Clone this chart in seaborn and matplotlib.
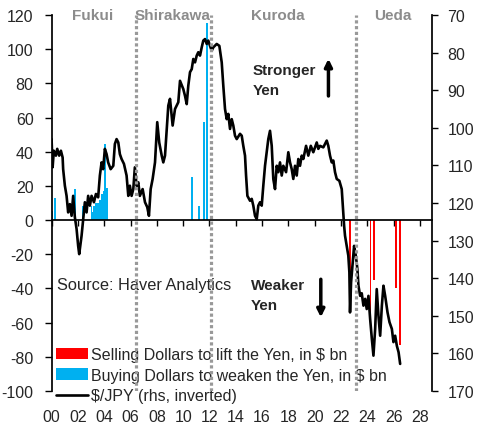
import numpy as np
import pandas as pd
import seaborn as sns
import matplotlib.pyplot as plt
from matplotlib.patches import Patch
from matplotlib.lines import Line2D

sns.set_theme(style='white')
plt.rcParams['font.family'] = ['Liberation Sans', 'DejaVu Sans']
plt.rcParams['axes.unicode_minus'] = False

# $/JPY (year fraction, yen per dollar)
yen_year = [2000.00, 2000.08, 2000.17, 2000.33, 2000.43, 2000.58, 2000.71, 2000.84, 2000.88, 2001.01,
            2001.14, 2001.26, 2001.39, 2001.52, 2001.64, 2001.77, 2001.90, 2002.02, 2002.10, 2002.28,
            2002.40, 2002.53, 2002.66, 2002.78, 2002.91, 2003.04, 2003.22, 2003.37, 2003.54, 2003.67,
            2003.80, 2003.92, 2004.05, 2004.18, 2004.30, 2004.49, 2004.69, 2004.81, 2004.94, 2005.07,
            2005.19, 2005.32, 2005.50, 2005.70, 2005.83, 2005.95, 2006.08, 2006.21, 2006.33, 2006.46,
            2006.59, 2006.71, 2006.92, 2007.10, 2007.27, 2007.40, 2007.53, 2007.68, 2007.86, 2008.03,
            2008.18, 2008.37, 2008.49, 2008.62, 2008.75, 2008.87, 2009.00, 2009.20, 2009.38, 2009.63,
            2009.76, 2010.01, 2010.14, 2010.27, 2010.39, 2010.52, 2010.65, 2010.77, 2010.90, 2011.03,
            2011.15, 2011.28, 2011.41, 2011.53, 2011.66, 2011.79, 2011.91, 2012.04, 2012.17, 2012.29,
            2012.55, 2012.75, 2012.93, 2013.05, 2013.18, 2013.31, 2013.43, 2013.56, 2013.69, 2013.81,
            2013.94, 2014.07, 2014.32, 2014.45, 2014.57, 2014.70, 2014.78, 2014.88, 2015.08, 2015.21,
            2015.33, 2015.46, 2015.59, 2015.71, 2015.84, 2015.97, 2016.09, 2016.22, 2016.35, 2016.47,
            2016.60, 2016.73, 2016.85, 2016.98, 2017.11, 2017.23, 2017.36, 2017.49, 2017.61, 2017.82,
            2017.99, 2018.12, 2018.25, 2018.37, 2018.50, 2018.63, 2018.75, 2018.88, 2019.01, 2019.13,
            2019.34, 2019.51, 2019.70, 2019.89, 2020.15, 2020.27, 2020.40, 2020.65, 2020.91, 2021.03,
            2021.16, 2021.29, 2021.41, 2021.54, 2021.67, 2021.87, 2022.05, 2022.13, 2022.23, 2022.30,
            2022.43, 2022.55, 2022.63, 2022.68, 2022.76, 2022.89, 2022.99, 2023.12, 2023.24, 2023.32,
            2023.45, 2023.57, 2023.70, 2023.83, 2023.95, 2024.08, 2024.21, 2024.34, 2024.46, 2024.59,
            2024.71, 2024.84, 2024.97, 2025.10, 2025.22, 2025.35, 2025.53, 2025.68, 2025.86, 2025.98,
            2026.11, 2026.24, 2026.37, 2026.49]
yen_value = [103.0, 110.5, 106.1, 107.4, 105.6, 107.4, 106.1, 107.9, 111.0, 115.4,
             118.1, 122.5, 120.3, 123.4, 118.1, 123.8, 126.9, 131.4, 133.6, 128.7,
             124.3, 119.8, 122.5, 118.1, 120.7, 118.1, 119.8, 117.6, 118.5, 112.7,
             109.2, 111.0, 105.6, 107.0, 109.2, 111.0, 110.1, 104.3, 103.0, 103.9,
             107.0, 108.3, 109.6, 112.7, 118.1, 115.4, 118.1, 116.3, 110.5, 115.4,
             114.5, 118.1, 116.3, 119.8, 121.1, 123.4, 116.3, 113.6, 109.2, 98.5,
             103.9, 107.4, 109.2, 107.4, 100.3, 94.1, 92.3, 99.4, 95.0, 93.2,
             87.5, 89.7, 91.5, 93.7, 88.8, 85.2, 84.4, 81.7, 82.6, 80.8,
             79.9, 80.8, 78.6, 76.8, 76.4, 77.7, 76.8, 78.2, 79.5, 78.6,
             77.7, 78.2, 82.6, 88.8, 95.0, 97.7, 96.3, 100.3, 97.7, 99.4,
             102.1, 103.0, 101.6, 102.1, 104.8, 107.4, 112.7, 118.1, 119.4, 118.9,
             120.7, 123.4, 124.3, 120.7, 119.8, 120.7, 115.4, 110.1, 106.5, 103.0,
             100.8, 104.8, 113.6, 116.3, 110.1, 111.8, 109.2, 112.7, 110.1, 111.8,
             106.5, 109.2, 111.0, 113.6, 110.1, 112.7, 108.3, 110.1, 107.4, 108.3,
             104.8, 107.4, 104.8, 106.5, 103.9, 105.6, 104.8, 105.2, 103.4, 104.8,
             107.4, 109.2, 108.7, 111.8, 113.6, 114.1, 116.3, 120.7, 126.0, 128.7,
             131.4, 134.0, 138.4, 149.1, 141.1, 135.8, 131.4, 134.0, 137.6, 142.0,
             144.7, 144.0, 147.3, 145.5, 148.2, 144.7, 150.9, 156.2, 160.6, 153.5,
             142.9, 150.0, 155.3, 147.3, 142.0, 144.7, 149.1, 151.7, 153.5, 157.0,
             155.3, 158.0, 159.7, 162.8]

# Intervention: buying dollars (weaken yen), $ bn
buy_year = [2000.05, 2000.25, 2001.75, 2002.36,
            2003.04, 2003.12, 2003.21, 2003.29, 2003.37, 2003.46, 2003.54, 2003.62,
            2003.71, 2003.79, 2003.87, 2003.96, 2004.04, 2004.12, 2004.21,
            2010.64, 2011.20, 2011.56, 2011.80]
buy_value = [5.5, 13, 18, 8.5,
             8.5, 5, 8.5, 4, 10, 10, 6, 10,
             12, 15, 15, 17, 44.5, 19, 19,
             25.5, 8.5, 57.5, 115.5]

# Intervention: selling dollars (lift yen), $ bn
sell_year = [2022.66, 2024.24, 2024.49, 2026.20, 2026.45]
sell_value = [-33, -63, -35, -40, -73]

era_names = ['Fukui', 'Shirakawa', 'Kuroda', 'Ueda']
era_label_x = [2003.1, 2009.2, 2017.2, 2025.9]
era_breaks = [2006.4, 2012.1, 2023.15]

red = '#ff0000'
blue = '#00b0f0'
grey = '#8c8c8c'

yen_df = pd.DataFrame({'year': yen_year, 'yen': yen_value})

fig = plt.figure(figsize=(4.82, 4.27), dpi=100)
ax = fig.add_axes([0.107, 0.082, 0.789, 0.8805])
ax2 = ax.twinx()

ax.bar(buy_year, buy_value, width=0.14, color=blue, linewidth=0, zorder=2)
ax.bar(sell_year, sell_value, width=0.14, color=red, linewidth=0, zorder=2)

sns.lineplot(data=yen_df, x='year', y='yen', ax=ax2, color='black', linewidth=1.9)

ax.set_xlim(2000, 2028.9)
ax.set_ylim(-100, 120)
ax2.set_ylim(170, 70)

# left axis
ax.set_yticks(np.arange(-100, 121, 20))
ax.tick_params(axis='y', which='major', direction='out', length=5, width=1, color='black',
               labelsize=11.5, pad=8, left=True)
# right axis
ax2.set_yticks(np.arange(70, 171, 10))
ax2.tick_params(axis='y', which='major', direction='out', length=4.3, width=1, color='black',
                labelsize=11.5, pad=7, right=True)
ax2.set_ylabel('')
ax2.set_xlabel('')
ax.set_xlabel('')

# x axis line at zero with ticks, labels at the bottom
xt = np.arange(2000, 2029, 2)
ax.spines['bottom'].set_position(('data', 0))
ax.set_xticks(xt)
ax.tick_params(axis='x', direction='out', length=4, width=1, color='black', labelbottom=False, bottom=True)
sec = ax.secondary_xaxis('bottom')
sec.set_xticks(xt)
sec.set_xticklabels([f'{int(y) % 100:02d}' for y in xt])
sec.tick_params(length=0, labelsize=11.5, pad=13)
sec.spines['bottom'].set_visible(False)

for a in (ax, ax2):
    a.spines['top'].set_visible(False)
    a.spines['left'].set_color('black')
    a.spines['right'].set_color('black')
    a.grid(False)
ax2.spines['bottom'].set_visible(False)
ax.spines['bottom'].set_color('black')
ax.spines['right'].set_visible(False)
ax2.spines['left'].set_visible(False)

# era boundaries and names
for xb in era_breaks:
    ax2.axvline(xb, color='#999999', linestyle=(0, (1, 0.8)), linewidth=2.3, zorder=5)
for name, xl in zip(era_names, era_label_x):
    ax.text(xl, 120, name, ha='center', va='center', color=grey, fontsize=11, fontweight='bold')

# annotations
ax.text(2015.28, 81.7, 'Stronger\nYen', ha='left', va='center', fontsize=11,
        fontweight='bold', linespacing=1.55)
ax.annotate('', xy=(2021.04, 96), xytext=(2021.04, 71),
            arrowprops=dict(arrowstyle='-|>', lw=2.5, color='black', mutation_scale=11))
ax.text(2015.13, -43.6, 'Weaker\nYen', ha='left', va='center', fontsize=11,
        fontweight='bold', linespacing=1.55)
ax.annotate('', xy=(2020.46, -58.5), xytext=(2020.46, -33),
            arrowprops=dict(arrowstyle='-|>', lw=2.5, color='black', mutation_scale=11))
ax.text(2000.4, -37.5, 'Source: Haver Analytics', ha='left', va='center', fontsize=11.75)

handles = [Patch(facecolor=red, edgecolor='none'),
           Patch(facecolor=blue, edgecolor='none'),
           Line2D([0], [0], color='black', linewidth=1.9)]
labels = ['Selling Dollars to lift the Yen, in $ bn',
          'Buying Dollars to weaken the Yen, in $ bn',
          '$/JPY (rhs, inverted)']
leg = ax.legend(handles, labels, loc='upper left', bbox_to_anchor=(0.0, 0.13),
                frameon=False, fontsize=11.5, handlelength=2.0, handleheight=0.7,
                handletextpad=0.17, labelspacing=0.36, borderpad=0, borderaxespad=0.3)
leg.set_zorder(1)

fig.savefig('out.png', dpi=100)
